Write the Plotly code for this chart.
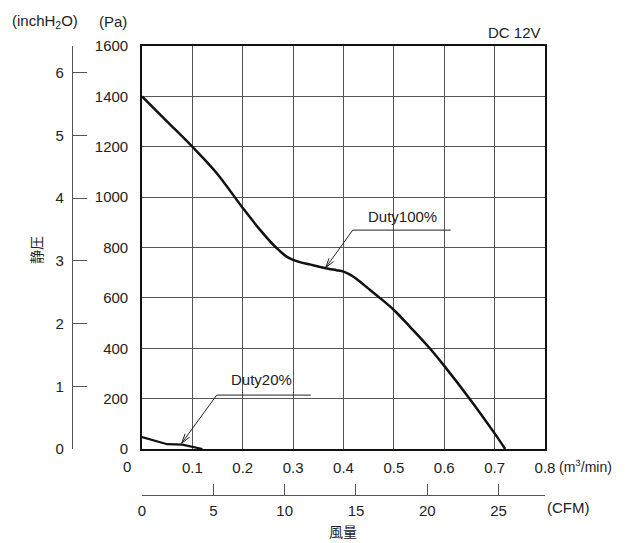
import math
import plotly.graph_objects as go

# ---- data (m3/min, Pa) ----
duty100_q = [0, 0.05, 0.1, 0.148, 0.2, 0.234, 0.264, 0.287, 0.31, 0.335, 0.37, 0.386, 0.4, 0.413, 0.426, 0.453, 0.472, 0.5, 0.532, 0.572, 0.6, 0.651, 0.7, 0.721]
duty100_p = [1400, 1300, 1200, 1096, 957, 871, 804, 764, 744, 732, 716, 710, 704, 692, 675, 631, 600, 552, 485, 398, 330, 198, 62, 0]
duty20_q = [0, 0.05, 0.08, 0.095, 0.12]
duty20_p = [47, 19, 17, 10, 0]

x_ticks = [0.1, 0.2, 0.3, 0.4, 0.5, 0.6, 0.7, 0.8]
x_ticktext = ["0.1", "0.2", "0.3", "0.4", "0.5", "0.6", "0.7", "0.8"]
y_ticks = [0, 200, 400, 600, 800, 1000, 1200, 1400, 1600]
inch_ticks = [0, 1, 2, 3, 4, 5, 6]
cfm_ticks = [0, 5, 10, 15, 20, 25]

PA_PER_INCH = 249.089
M3MIN_PER_CFM = 0.0283168

OFF = 8  # page body margin in the browser
W, H = 625 - OFF, 543 - OFF
ML, MR, MT, MB = 0, 80, 46 - OFF, 0
PW, PH = W - ML - MR, H - MT - MB
plot_l, plot_b = 142 - OFF, 449 - OFF
x_dom0 = (plot_l - ML) / PW
y_dom0 = (H - MB - plot_b) / PH
X_RANGE, Y_RANGE = 0.8, 1600
PX_PER_X = (PW - (plot_l - ML)) / X_RANGE
PX_PER_Y = (plot_b - MT) / Y_RANGE

NUM_FONT = dict(family="Liberation Sans, Arial, sans-serif", size=15, color="#222")
TXT_FONT = dict(family="Liberation Sans, Arial, sans-serif", size=15, color="#222")
UNIT_FONT = dict(family="Liberation Sans, Arial, sans-serif", size=14, color="#222")
JP_FONT = dict(family="Noto Sans CJK JP, sans-serif", size=14, color="#222")

fig = go.Figure()
fig.add_trace(go.Scatter(x=duty100_q, y=duty100_p, mode="lines",
                         line=dict(color="#111", width=2.5, shape="spline", smoothing=1.0),
                         showlegend=False, hoverinfo="skip"))
fig.add_trace(go.Scatter(x=duty20_q, y=duty20_p, mode="lines",
                         line=dict(color="#111", width=2.2),
                         showlegend=False, hoverinfo="skip"))
# helper trace so the secondary axes get drawn
fig.add_trace(go.Scatter(x=[None], y=[None], xaxis="x2", yaxis="y2",
                         showlegend=False, hoverinfo="skip"))

fig.update_layout(
    width=W, height=H,
    margin=dict(l=ML, r=MR, t=MT, b=MB, autoexpand=False),
    paper_bgcolor="white", plot_bgcolor="white",
    xaxis=dict(domain=[x_dom0, 1], range=[0, X_RANGE], anchor="y",
               tickvals=x_ticks, ticktext=x_ticktext, ticks="", showgrid=True,
               gridcolor="#555", gridwidth=1.3, showline=True, linecolor="#111",
               linewidth=1.6, mirror=True, zeroline=False, tickfont=NUM_FONT,
               ticklabelstandoff=4, automargin=False, fixedrange=True),
    yaxis=dict(domain=[y_dom0, 1], range=[0, Y_RANGE], anchor="x",
               tickvals=y_ticks, ticks="", showgrid=True,
               gridcolor="#555", gridwidth=1.3, showline=True, linecolor="#111",
               linewidth=1.6, mirror=True, zeroline=False, tickfont=NUM_FONT,
               ticklabelstandoff=9, automargin=False, fixedrange=True),
    yaxis2=dict(overlaying="y", anchor="free", position=(72 - OFF - ML) / PW, side="left",
                range=[0, Y_RANGE / PA_PER_INCH], tickvals=inch_ticks, ticks="inside",
                ticklen=14, tickcolor="#555", tickwidth=1.3, showline=True,
                linecolor="#555", linewidth=1.3, showgrid=False, zeroline=False,
                tickfont=NUM_FONT, ticklabelstandoff=5, automargin=False, fixedrange=True),
    xaxis2=dict(overlaying="x", anchor="free", position=(H - MB - (495 - OFF)) / PH, side="bottom",
                range=[0, X_RANGE / M3MIN_PER_CFM], tickvals=cfm_ticks, ticks="inside",
                ticklen=11, tickcolor="#555", tickwidth=1.3, showline=True,
                linecolor="#555", linewidth=1.3, showgrid=False, zeroline=False,
                tickfont=NUM_FONT, ticklabelstandoff=2, automargin=False, fixedrange=True),
)

def px2paper_x(px):
    return (px - OFF - ML) / PW

def px2paper_y(py):
    return (H - MB - (py - OFF)) / PH

ann = []
def label(text, px, py, font, xanchor="center", textangle=0):
    ann.append(dict(text=text, x=px2paper_x(px), y=px2paper_y(py), xref="paper", yref="paper",
                    showarrow=False, xanchor=xanchor, yanchor="middle", font=font,
                    textangle=textangle))

label("(inchH<sub>2</sub>O)", 45, 21, TXT_FONT)
label("(Pa)", 113, 21, TXT_FONT)
label("DC 12V", 543, 33, TXT_FONT, xanchor="right")
label("0", 127, 466, NUM_FONT)
label("(m<sup>3</sup>/min)", 557, 466, UNIT_FONT, xanchor="left")
label("(CFM)", 545, 507, TXT_FONT, xanchor="left")
label("風量", 343, 531, JP_FONT)
label("静圧", 36, 250, JP_FONT, textangle=-90)

# Callout labels
ann.append(dict(text="Duty100%", x=0.518, y=922, xref="x", yref="y", showarrow=False,
                font=TXT_FONT, xanchor="center", yanchor="middle"))
ann.append(dict(text="Duty20%", x=0.238, y=275, xref="x", yref="y", showarrow=False,
                font=TXT_FONT, xanchor="center", yanchor="middle"))
fig.update_layout(annotations=ann)

def callout(tip, elbow, end):
    """leader line: end -> elbow -> tip, with an open arrowhead at tip"""
    (tx, ty), (ex, ey), (nx, ny) = tip, elbow, end
    fig.add_shape(type="path", xref="x", yref="y",
                  path=f"M{nx},{ny} L{ex},{ey} L{tx},{ty}",
                  line=dict(color="#222", width=1))
    dxp = (ex - tx) * PX_PER_X
    dyp = (ey - ty) * PX_PER_Y
    ang = math.atan2(dyp, dxp)
    L, half = 10, math.radians(16)
    pts = []
    for s in (-1, 1):
        a = ang + s * half
        pts.append((tx + L * math.cos(a) / PX_PER_X, ty + L * math.sin(a) / PX_PER_Y))
    fig.add_shape(type="path", xref="x", yref="y",
                  path=f"M{pts[0][0]},{pts[0][1]} L{tx},{ty} L{pts[1][0]},{pts[1][1]}",
                  line=dict(color="#222", width=1))

callout((0.3647, 720), (0.4183, 869), (0.6128, 869))
callout((0.0788, 23), (0.1483, 214), (0.335, 214))

fig.write_html("out.html")
